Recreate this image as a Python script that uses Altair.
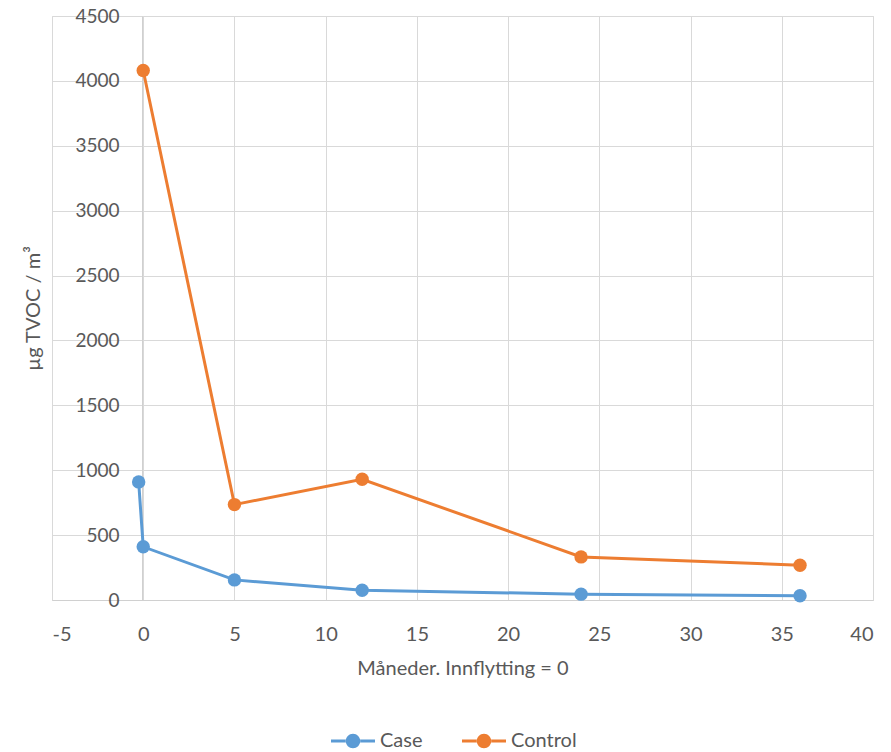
import altair as alt
import pandas as pd

case_x = [-0.25, 0, 5, 12, 24, 36]
case_y = [910, 410, 155, 75, 45, 33]
control_x = [0, 5, 12, 24, 36]
control_y = [4080, 735, 930, 332, 268]
series = ["Case", "Control"]
colors = ["#5B9BD5", "#ED7D31"]
x_ticks = [-5, 0, 5, 10, 15, 20, 25, 30, 35, 40]
y_ticks = [0, 500, 1000, 1500, 2000, 2500, 3000, 3500, 4000, 4500]

rows = []
for i, (x, y) in enumerate(zip(case_x, case_y)):
    rows.append({"serie": "Case", "x": x, "y": y, "i": i})
for i, (x, y) in enumerate(zip(control_x, control_y)):
    rows.append({"serie": "Control", "x": x, "y": y, "i": i})
df = pd.DataFrame(rows)

FONT = "Lato"
TXT = "#595959"
GRID = "#D9D9D9"

# legend glyph (line with a dot), in Vega's [-1, 1] symbol box
sym = ("M-1,-0.07 L-0.32,-0.07 L-0.32,0.07 L-1,0.07 Z "
       "M0.32,-0.07 L1,-0.07 L1,0.07 L0.32,0.07 Z "
       "M-0.33,0 A0.33,0.33 0 1,0 0.33,0 A0.33,0.33 0 1,0 -0.33,0 Z")

xenc = alt.X("x:Q", scale=alt.Scale(domain=[-5, 40], nice=False, zero=False),
             axis=alt.Axis(values=x_ticks, title="Måneder. Innflytting = 0",
                           labelExpr="datum.value + ''",
                           grid=True, gridColor=GRID, ticks=False,
                           domainColor="#D0D0D0", labelPadding=24,
                           titlePadding=14, labelFontSize=20, titleFontSize=20,
                           labelColor=TXT, titleColor=TXT, labelFont=FONT,
                           titleFont=FONT, titleFontWeight="normal"))
yenc = alt.Y("y:Q", scale=alt.Scale(domain=[0, 4500], nice=False),
             axis=alt.Axis(values=y_ticks, title="µg TVOC / m³", offset=-90,
                           labelExpr="datum.value + ''",
                           grid=True, gridColor=GRID, ticks=False,
                           domainColor="#D0D0D0", labelPadding=23,
                           labelFontSize=19, titleFontSize=20,
                           labelColor=TXT, titleColor=TXT, labelFont=FONT,
                           titleFont=FONT, titleFontWeight="normal",
                           titleX=-109, titleY=292, titleAngle=270,
                           titleAlign="center", titleBaseline="middle"))

legend = alt.Legend(orient="none", direction="horizontal",
                    legendX=279, legendY=703, symbolType=sym,
                    symbolSize=1936, symbolStrokeWidth=0, symbolOpacity=1,
                    labelOffset=5, columnPadding=39, labelFontSize=20,
                    labelFont=FONT, labelColor=TXT)
cenc = alt.Color("serie:N", scale=alt.Scale(domain=series, range=colors),
                 legend=legend, title="")

lines = alt.Chart(df).mark_line(strokeWidth=3).encode(
    x=xenc, y=yenc, color=cenc, order="i:Q",
)
points = alt.Chart(df).mark_point(filled=True, size=180, opacity=1).encode(
    x=xenc, y=yenc, color=cenc,
)

chart = alt.layer(lines, points).properties(
    width=821, height=584,
    autosize=alt.AutoSizeParams(type="none"),
    padding={"left": 44, "top": 8, "right": 10, "bottom": 152},
).configure_view(stroke=None).configure(background="white")

chart.save("out.html", embed_options={"renderer": "svg", "actions": False})
